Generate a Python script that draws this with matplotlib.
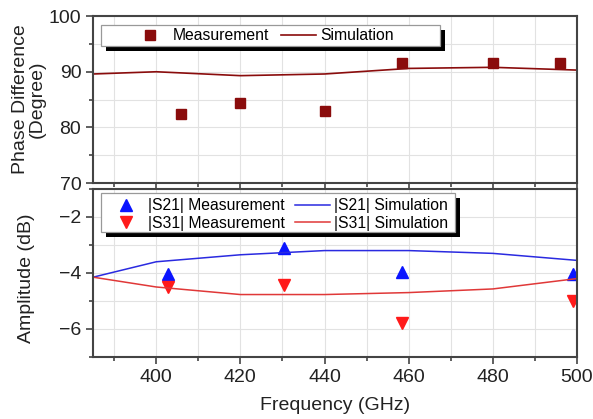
import matplotlib
matplotlib.use("Agg")
import matplotlib.pyplot as plt
from matplotlib.ticker import MultipleLocator
from matplotlib.patches import Rectangle

plt.rcParams['font.family'] = ['Liberation Sans', 'DejaVu Sans']

# Phase difference
phase_meas_f = [406, 420, 440, 458.3, 480, 496]
phase_meas = [82.4, 84.4, 82.9, 91.6, 91.6, 91.6]
sim_f = [385, 400, 420, 440, 460, 480, 500]
phase_sim = [89.6, 90.0, 89.3, 89.6, 90.6, 90.8, 90.3]

# Amplitude
amp_meas_f = [402.7, 430.3, 458.3, 499]
s21_meas = [-4.05, -3.1, -3.96, -4.05]
s31_meas = [-4.5, -4.42, -5.8, -5.0]
s21_sim = [-4.15, -3.6, -3.35, -3.2, -3.2, -3.3, -3.55]
s31_sim = [-4.15, -4.5, -4.77, -4.77, -4.7, -4.57, -4.2]

fig = plt.figure(figsize=(5.93, 4.19), dpi=100)
ax1 = fig.add_axes([0.157, 0.563, 0.816, 0.3986])
ax2 = fig.add_axes([0.157, 0.148, 0.816, 0.401])

dark_red = '#8a0c0c'
frame_col = '#444444'
txt_col = '#222222'

for ax in (ax1, ax2):
    ax.set_xlim(385, 500)
    ax.xaxis.set_major_locator(MultipleLocator(20))
    ax.xaxis.set_minor_locator(MultipleLocator(10))
    ax.grid(True, which='both', color='#e2e2e2', linewidth=0.8)
    ax.set_axisbelow(True)
    for s in ax.spines.values():
        s.set_color(frame_col)
        s.set_linewidth(1.5)
    ax.tick_params(axis='both', which='both', colors=frame_col, labelcolor=txt_col,
                   labelsize=14, width=1.2, direction='out')
    ax.tick_params(axis='both', which='major', length=5)
    ax.tick_params(axis='both', which='minor', length=3)


def legend_box(ax, x0, y0, x1, y1, dx, dy):
    ax.add_patch(Rectangle((x0 + dx, y0 - dy), x1 - x0, y1 - y0, transform=ax.transAxes,
                           facecolor='black', edgecolor='none', zorder=4, clip_on=False))
    ax.add_patch(Rectangle((x0, y0), x1 - x0, y1 - y0, transform=ax.transAxes,
                           facecolor='white', edgecolor='#999999', linewidth=0.9,
                           zorder=4.5, clip_on=False))


# top panel
ax1.plot(phase_meas_f, phase_meas, 's', color=dark_red, markersize=7, linestyle='none',
         label='Measurement')
ax1.plot(sim_f, phase_sim, '-', color=dark_red, linewidth=1.2, label='Simulation')
ax1.set_ylim(70, 100)
ax1.yaxis.set_major_locator(MultipleLocator(10))
ax1.yaxis.set_minor_locator(MultipleLocator(5))
ax1.tick_params(axis='x', labelbottom=False)
ax1.set_ylabel('Phase Difference\n(Degree)', fontsize=14, color=txt_col, linespacing=1.05)
ax1.yaxis.set_label_coords(-0.097, 0.5)
legend_box(ax1, 0.0165, 0.820, 0.717, 0.946, 0.0103, 0.030)
leg1 = ax1.legend(loc='center left', bbox_to_anchor=(0.0826, 0.883), ncol=2, fontsize=11.3,
                  frameon=False, borderpad=0, borderaxespad=0, columnspacing=0.8,
                  handlelength=2.2, handletextpad=0.3)
leg1.set_zorder(5)

# bottom panel
ax2.plot(amp_meas_f, s21_meas, '^', color='#0a14ff', markersize=8, linestyle='none',
         label='|S21| Measurement')
ax2.plot(sim_f, s21_sim, '-', color='#2a2ae0', linewidth=1.1, label='|S21| Simulation')
ax2.plot(amp_meas_f, s31_meas, 'v', color='#ff1a1a', markersize=8, linestyle='none',
         label='|S31| Measurement')
ax2.plot(sim_f, s31_sim, '-', color='#e03838', linewidth=1.1, label='|S31| Simulation')
ax2.set_ylim(-7, -1)
ax2.yaxis.set_minor_locator(MultipleLocator(1))
ax2.set_yticks([-2, -4, -6])
ax2.set_ylabel('Amplitude (dB)', fontsize=14, color=txt_col)
ax2.yaxis.set_label_coords(-0.12, 0.47)
ax2.set_xlabel('Frequency (GHz)', fontsize=14, color=txt_col, labelpad=8)
legend_box(ax2, 0.0165, 0.743, 0.748, 0.976, 0.0103, 0.030)
h, l = ax2.get_legend_handles_labels()
order = [0, 2, 1, 3]
leg2 = ax2.legend([h[i] for i in order], [l[i] for i in order], loc='center left',
                  bbox_to_anchor=(0.033, 0.848), ncol=2, fontsize=11.3,
                  frameon=False, borderpad=0, borderaxespad=0, columnspacing=0.7,
                  handlelength=2.2, handletextpad=0.25, labelspacing=0.15)
leg2.set_zorder(5)

fig.savefig('out.png', dpi=100)
